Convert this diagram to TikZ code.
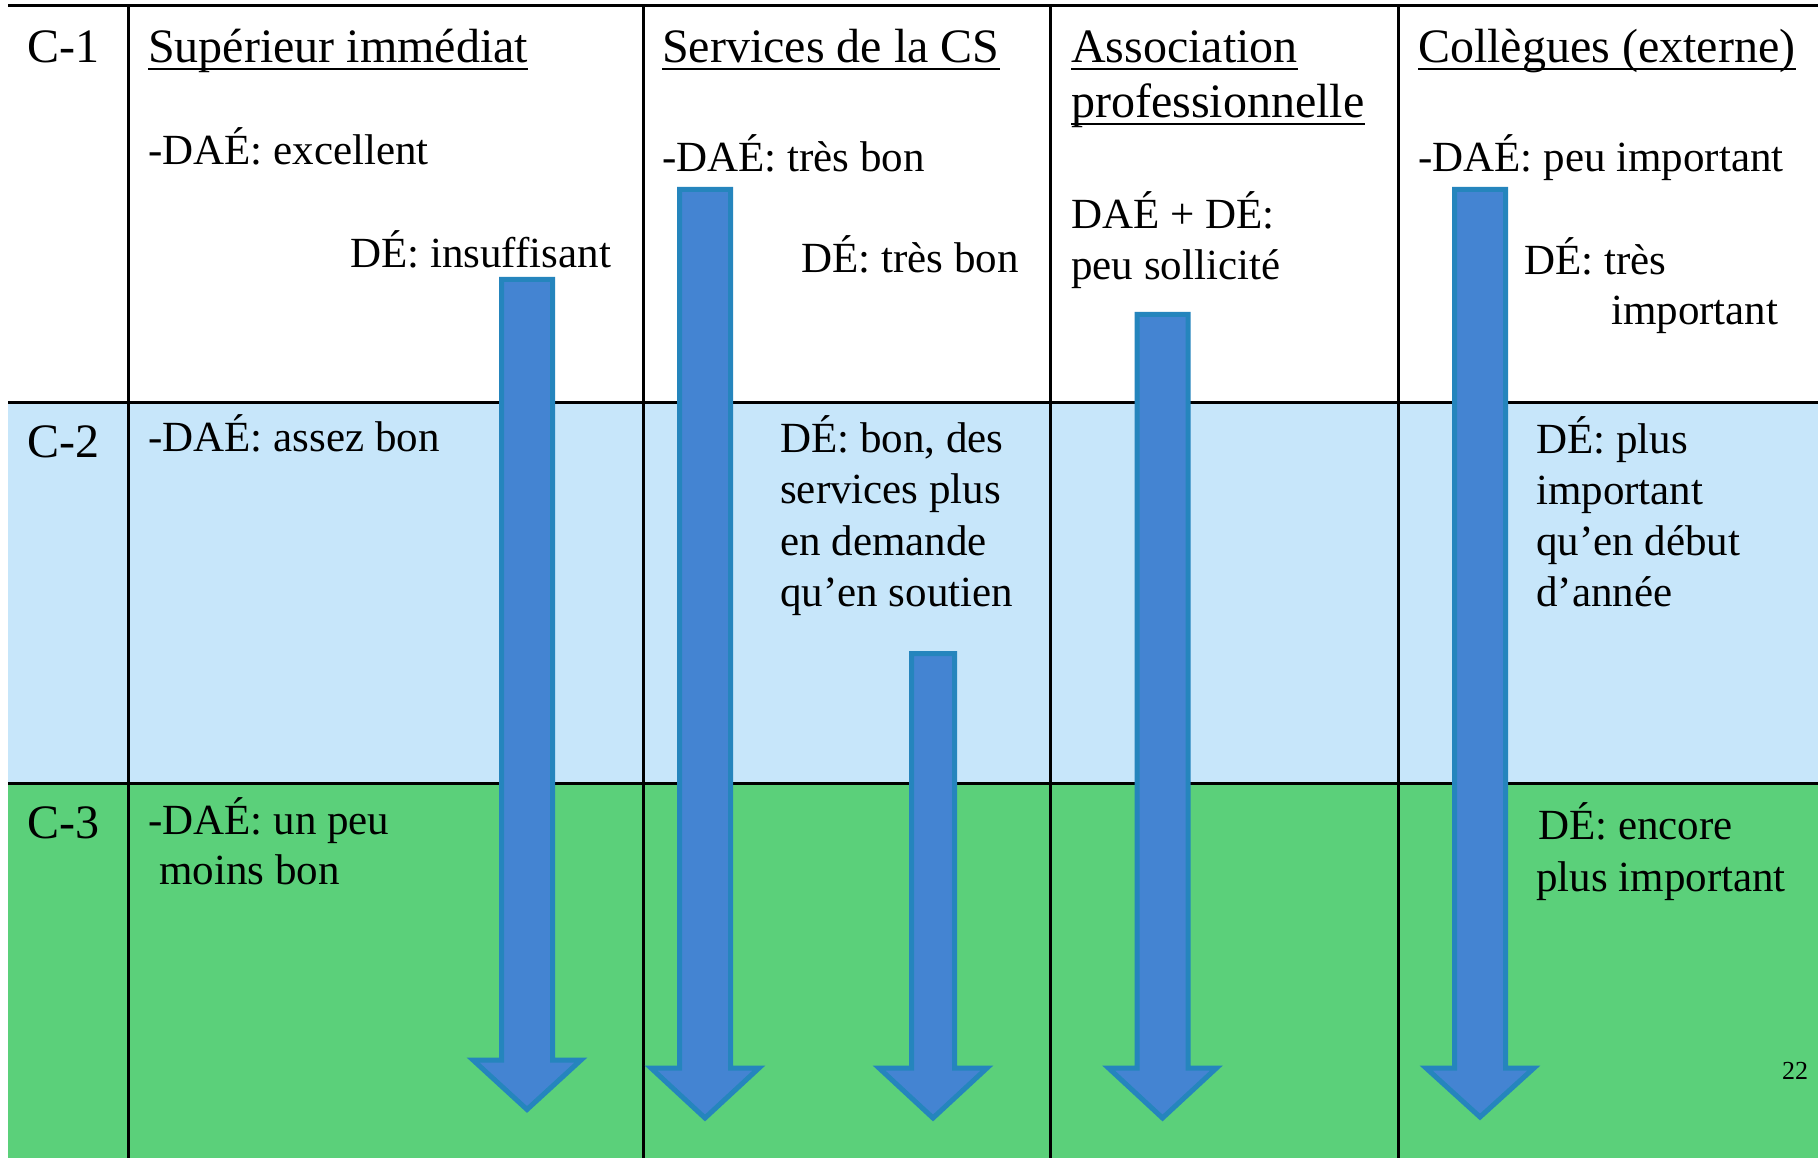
\documentclass[tikz,border=0pt]{standalone}
\usepackage{fontspec}
\setmainfont{Liberation Serif}
\definecolor{rowblue}{HTML}{C7E6FA}
\definecolor{rowgreen}{HTML}{5BD07A}
\definecolor{arrfill}{HTML}{4484D2}
\definecolor{arrline}{HTML}{2585BD}
\newcommand\mybarrow[6]{% cx, top, shaft half, head base, tip, head half
  \draw[barrow] ({#1-#3},#2) -- ({#1+#3},#2) -- ({#1+#3},#4) -- ({#1+#6},#4)
    -- (#1,#5) -- ({#1-#6},#4) -- ({#1-#3},#4) -- cycle;}
\begin{document}
\begin{tikzpicture}[x=1pt,y=-1pt,
  grid/.style={line width=3pt, black},
  hd/.style={anchor=base west, inner sep=0pt, font=\fontsize{48}{53}\selectfont},
  tx/.style={anchor=base west, inner sep=0pt, font=\fontsize{43}{51}\selectfont},
  ul/.style={line width=2pt, black},
  barrow/.style={fill=arrfill, draw=arrline, line width=5pt, line join=miter}]
\useasboundingbox (0,0) rectangle (1818,1158);
\fill[white] (0,0) rectangle (1818,1158);
\fill[rowblue] (8,402) rectangle (1818,783);
\fill[rowgreen] (8,783) rectangle (1818,1158);
% grid
\draw[grid] (8,6) -- (1818,6);
\draw[grid] (8,402) -- (1818,402);
\draw[grid] (8,783) -- (1818,783);
\foreach \gx in {128.5,643,1050.5,1398} \draw[grid] (\gx,6) -- (\gx,1158);
% arrows
\mybarrow{527}{279.5}{25.5}{1060}{1109.5}{54}
\mybarrow{705}{189.5}{25.5}{1068}{1118}{54}
\mybarrow{933}{653.5}{21.5}{1068}{1118}{54}
\mybarrow{1162.5}{314.5}{25.5}{1068}{1118}{54}
\mybarrow{1480}{189.5}{25.5}{1068}{1117}{54}
% row labels
\node[hd] (c1) at (27,63) {C-1};
\node[hd] (c2) at (27,457) {C-2};
\node[hd] (c3) at (27,838) {C-3};
% headings
\node[hd] (h1) at (148,63) {Supérieur immédiat};
\node[hd] (h2) at (662,63) {Services de la CS};
\node[hd] (h3a) at (1071,63) {Association};
\node[hd] (h3b) at (1071,118) {professionnelle};
\node[hd] (h4) at (1418,63) {Collègues (externe)};
\foreach \n in {h1,h2,h3a,h3b,h4}
  \draw[ul] ([yshift=-6pt]\n.base west) -- ([yshift=-6pt]\n.base east);
% row 1
\node[tx] (a1) at (148,165) {-DAÉ: excellent};
\node[tx] (a2) at (350,268) {DÉ: insuffisant};
\node[tx] (b1) at (662,172) {-DAÉ: très bon};
\node[tx] (b2) at (801,273) {DÉ: très bon};
\node[tx] (d1) at (1071,229) {DAÉ + DÉ:};
\node[tx] (d2) at (1071,280) {peu sollicité};
\node[tx] (e1) at (1418,172) {-DAÉ: peu important};
\node[tx] (e2) at (1524,275) {DÉ: très};
\node[tx] (e3) at (1611,325) {important};
% row 2
\node[tx] (f1) at (148,451) {-DAÉ: assez bon};
\node[tx] (g1) at (780,452) {DÉ: bon, des};
\node[tx] (g2) at (780,503) {services plus};
\node[tx] (g3) at (780,555) {en demande};
\node[tx] (g4) at (780,606) {qu’en soutien};
\node[tx] (k1) at (1536,453) {DÉ: plus};
\node[tx] (k2) at (1536,504) {important};
\node[tx] (k3) at (1536,555) {qu’en début};
\node[tx] (k4) at (1536,606) {d’année};
% row 3
\node[tx] (m1) at (148,834) {-DAÉ: un peu};
\node[tx] (m2) at (159,884) {moins bon};
\node[tx] (n1) at (1538,839) {DÉ: encore};
\node[tx] (n2) at (1536,891) {plus important};
\node[anchor=base west, inner sep=0pt, font=\fontsize{26}{30}\selectfont] (pg) at (1782,1079) {22};
\end{tikzpicture}
\end{document}
